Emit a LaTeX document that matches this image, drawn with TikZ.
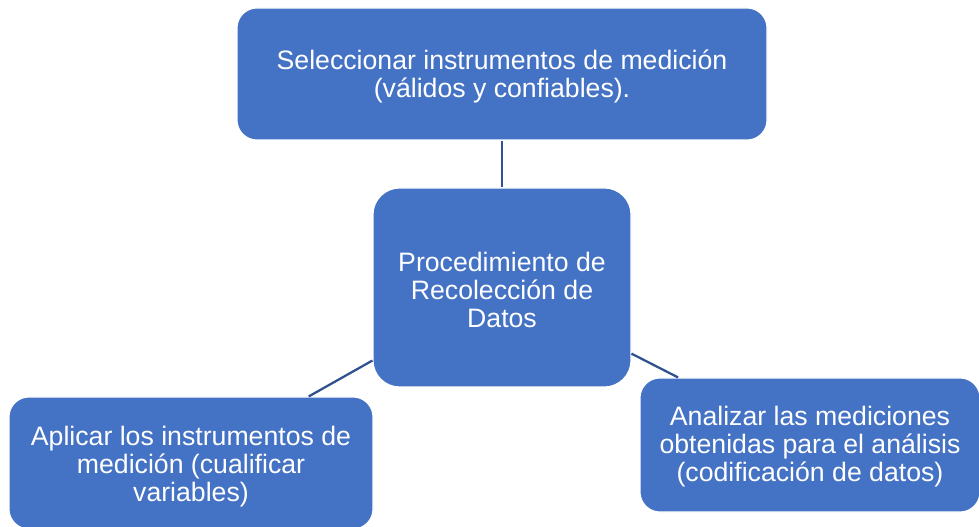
\documentclass[tikz,border=0pt]{standalone}
\usepackage{fontspec}
\setmainfont{Liberation Sans}
\definecolor{boxblue}{HTML}{4472C4}
\definecolor{linkblue}{HTML}{2F528F}
\begin{document}
\begin{tikzpicture}[x=0.75pt,y=-0.75pt,
  box/.style={draw=white,line width=0.8pt,fill=boxblue,inner sep=0pt},
  lbl/.style={text=white,align=center,inner sep=0pt,font=\fontsize{20}{21}\selectfont},
  link/.style={draw=linkblue,line width=1.7pt}]
\useasboundingbox (0,0) rectangle (979,527);
\node[box,rounded corners=15pt,minimum width=530*0.75pt,minimum height=132*0.75pt] (top) at (502,74) {};
\node[box,rounded corners=20pt,minimum width=258*0.75pt,minimum height=199*0.75pt] (center) at (502,287.5) {};
\node[box,rounded corners=15pt,minimum width=364*0.75pt,minimum height=132*0.75pt] (left) at (191,463) {};
\node[box,rounded corners=15pt,minimum width=340*0.75pt,minimum height=134*0.75pt] (right) at (810,445) {};
\node[lbl] (topT) at ([yshift=-1.5pt]top.center)
  {Seleccionar instrumentos de medición\\(válidos y confiables).};
\node[lbl] (centerT) at ([yshift=-1.5pt]center.center)
  {Procedimiento de\\Recolección de\\Datos};
\node[lbl] (leftT) at ([yshift=-2.5pt]left.center)
  {Aplicar los instrumentos de\\medición (cualificar\\variables)};
\node[lbl] (rightT) at ([yshift=-1.5pt]right.center)
  {Analizar las mediciones\\obtenidas para el análisis\\(codificación de datos)};
\draw[link] (top) -- (center);
\draw[link] (center) -- (left);
\draw[link] (center) -- (right);
\end{tikzpicture}
\end{document}
